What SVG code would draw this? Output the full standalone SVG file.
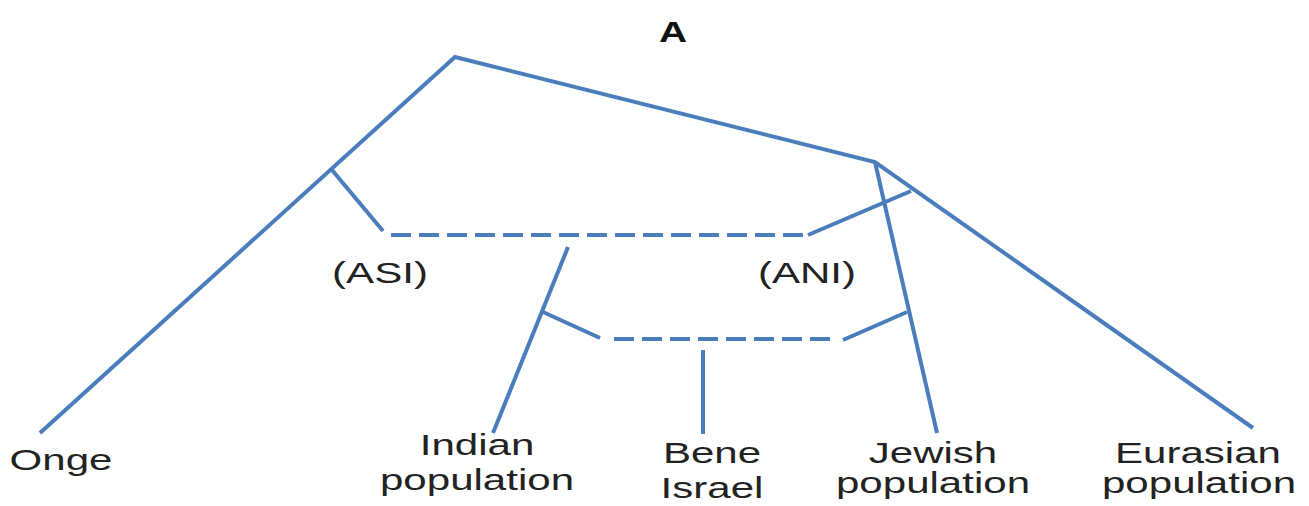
<svg xmlns="http://www.w3.org/2000/svg" width="1309" height="506" viewBox="0 0 1309 506">
<style>
.e{stroke:#4b7dbd;stroke-width:4;fill:none;stroke-linecap:butt}
.d{stroke-dasharray:20 8}
.t{font-family:"Liberation Sans",Arial,sans-serif;font-size:29px;fill:#222;text-anchor:middle}
.h{font-weight:bold;font-size:30px;fill:#111}
</style>
<rect width="1309" height="506" fill="#ffffff"/>
<g id="connectors">
<polyline class="e" points="40,433 455,57 875,162 1253,428"/>
<line class="e" x1="875" y1="162" x2="937" y2="433"/>
<line class="e" x1="332" y1="170" x2="383" y2="231"/>
<line class="e d" x1="391" y1="235" x2="805" y2="235"/>
<line class="e" x1="808" y1="235" x2="911" y2="191"/>
<line class="e" x1="568" y1="247" x2="493" y2="433"/>
<line class="e" x1="543" y1="312" x2="600" y2="338"/>
<line class="e d" x1="614" y1="339" x2="838" y2="339"/>
<line class="e" x1="843" y1="340" x2="907" y2="312"/>
<line class="e" x1="703" y1="350" x2="703" y2="434"/>
</g>
<g id="title"><text class="t h" transform="translate(673,42) scale(1.3,1)">A</text></g>
<g id="asi"><text class="t" transform="translate(380,283) scale(1.45,1)">(ASI)</text></g>
<g id="ani"><text class="t" transform="translate(807,283) scale(1.45,1)">(ANI)</text></g>
<g id="onge"><text class="t" transform="translate(61,470) scale(1.45,1)">Onge</text></g>
<g id="indian"><text class="t" transform="translate(477,455) scale(1.45,1)">Indian</text><text class="t" transform="translate(477,490) scale(1.45,1)">population</text></g>
<g id="bene"><text class="t" transform="translate(712,463) scale(1.45,1)">Bene</text><text class="t" transform="translate(712,498) scale(1.45,1)">Israel</text></g>
<g id="jewish"><text class="t" transform="translate(933,463) scale(1.45,1)">Jewish</text><text class="t" transform="translate(933,493) scale(1.45,1)">population</text></g>
<g id="eurasian"><text class="t" transform="translate(1198,463) scale(1.45,1)">Eurasian</text><text class="t" transform="translate(1199,493) scale(1.45,1)">population</text></g>
</svg>
